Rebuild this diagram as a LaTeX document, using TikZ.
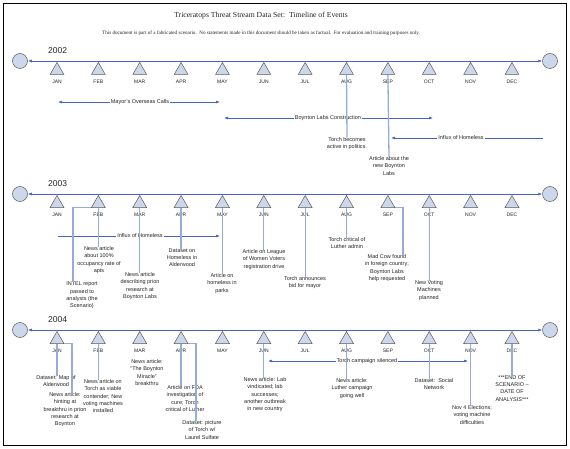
\documentclass[tikz,border=0pt]{standalone}
\usepackage{fontspec}
\setmainfont{Liberation Sans}
\newfontfamily\serifttl{Liberation Serif}
\usetikzlibrary{shapes.geometric,arrows.meta}
\definecolor{tlblue}{RGB}{70,100,200}
\definecolor{connc}{RGB}{150,172,214}
\definecolor{trifill}{RGB}{205,215,235}
\definecolor{trigray}{RGB}{90,90,90}
\definecolor{txt}{RGB}{35,35,35}
\tikzset{
  tri/.style={regular polygon, regular polygon sides=3, minimum size=16pt, inner sep=0pt, draw=trigray, fill=trifill, line width=0.5pt, anchor=north},
  endc/.style={circle, minimum size=15pt, inner sep=0pt, draw=trigray, fill=trifill, line width=0.5pt},
  tline/.style={draw=tlblue, line width=0.7pt, {Latex[length=4pt,width=3pt]}-{Latex[length=4pt,width=3pt]}},
  mlab/.style={font=\fontsize{5}{6}\selectfont, text=txt, inner sep=0pt},
  yearlab/.style={font=\fontsize{8.5}{10}\selectfont, text=txt, inner sep=0pt, anchor=base west},
  evt/.style={font=\fontsize{5.5}{7.2}\selectfont, align=center, inner sep=0pt, anchor=north, text=txt},
  conn/.style={draw=connc, line width=1.3pt},
  span/.style={draw=tlblue, line width=0.6pt},
  spanlab/.style={font=\fontsize{5.5}{7}\selectfont, text=txt, fill=white, inner sep=1pt},
  tip/.style={-{Latex[length=4pt,width=3pt]}}
}
\newcommand\yearline[2]{%
  \node[endc] (cl#1) at (20,#2) {};
  \node[endc] (cr#1) at (550,#2) {};
  \draw[tline] (cl#1) -- (cr#1);
  \node[yearlab] (y#1) at (48,#2-7.5) {#1};
  \foreach \m [count=\i] in {JAN,FEB,MAR,APR,MAY,JUN,JUL,AUG,SEP,OCT,NOV,DEC} {
    \node[tri] (m#1-\i) at ({57+41.36*(\i-1)},#2+1) {};
    \node[mlab] (ml#1-\i) at ({57+41.36*(\i-1)},#2+21) {\m};
  }%
}
\begin{document}
\begin{tikzpicture}[x=1pt,y=-1pt]
\useasboundingbox (0,0) rectangle (570,449);
\draw[line width=1pt] (3.5,3.5) rectangle (566.5,445.5);
\node[font=\serifttl\fontsize{7.7}{9}\selectfont, text=txt] (title) at (261,16) {Triceratops Threat Stream Data Set:\ \ Timeline of Events};
\node[font=\serifttl\fontsize{5.1}{6}\selectfont, text=txt] (subtitle) at (261,33) {This document is part of a fabricated scenario.\ \ No statements made in this document should be taken as factual.\ \ For evaluation and training purposes only.};

% ---------------- 2002 ----------------
\yearline{2002}{61}
\coordinate (a1) at (58,102); \coordinate (a2) at (220,102);
\draw[span,{Latex[length=4pt,width=3pt]}-{Latex[length=4pt,width=3pt]}] (a1) -- (a2);
\node[spanlab] (s1) at (140,102) {Mayor's Overseas Calls};
\coordinate (b1) at (224,118); \coordinate (b2) at (433,118);
\draw[span,{Latex[length=4pt,width=3pt]}-{Latex[length=4pt,width=3pt]}] (b1) -- (b2);
\node[spanlab] (s2) at (328,118) {Boynton Labs Construction};
\coordinate (c1) at (543,138); \coordinate (c2) at (391,138);
\draw[span,tip] (c1) -- (c2);
\node[spanlab] (s3) at (461,138) {Influx of Homeless};

\node[evt] (e02a) at (347,137.5) {Torch becomes\\active in politics.};
\node[evt] (e02b) at (389,156.5) {Article about the\\new Boynton\\Labs};
\draw[conn] (m2002-8.south) -- (e02a.north);
\draw[conn] (m2002-9.south) -- (e02b.north);

% ---------------- 2003 ----------------
\yearline{2003}{194}
\coordinate (d1) at (58,236); \coordinate (d2) at (220,236);
\draw[span,tip] (d1) -- (d2);
\node[spanlab] (s4) at (140,236) {Influx of Homeless};

\node[evt] (e03a) at (82,282) {INTEL report\\passed to\\analysts (the\\Scenario)};
\node[evt] (e03b) at (99,246.5) {News article\\about 100\%\\occupancy rate of\\apts};
\node[evt] (e03c) at (140,272.5) {News article\\describing prion\\research at\\Boynton Labs};
\node[evt] (e03d) at (182,248.5) {Dataset on\\Homeless in\\Alderwood};
\node[evt] (e03e) at (222,273.5) {Article on\\homeless in\\parks};
\node[evt] (e03f) at (264,249.5) {Article on League\\of Women Voters\\registration drive};
\node[evt] (e03g) at (305,276.5) {Torch announces\\bid for mayor};
\node[evt] (e03h) at (347,237.5) {Torch critical of\\Luther admin};
\node[evt] (e03i) at (387,254.5) {Mad Cow found\\in foreign country;\\Boynton Labs\\help requested};
\node[evt] (e03j) at (429,280.5) {New Voting\\Machines\\planned};
\draw[conn] (m2003-2.corner 2) -| ([xshift=-9pt]e03a.north);
\draw[conn] (m2003-2.south) -- (m2003-2.south |- e03b.north);
\draw[conn] (m2003-3.south) -- (m2003-3.south |- e03c.north);
\draw[conn] (m2003-4.south) -- (m2003-4.south |- e03d.north);
\draw[conn] (m2003-5.south) -- (m2003-5.south |- e03e.north);
\draw[conn] (m2003-6.south) -- (m2003-6.south |- e03f.north);
\draw[conn] (m2003-7.south) -- (m2003-7.south |- e03g.north);
\draw[conn] (m2003-8.south) -- (m2003-8.south |- e03h.north);
\draw[conn] (m2003-9.corner 3) -| ([xshift=16pt]e03i.north);
\draw[conn] (m2003-10.south) -- (m2003-10.south |- e03j.north);

% ---------------- 2004 ----------------
\yearline{2004}{330}
\coordinate (f1) at (268,361); \coordinate (f2) at (468,361);
\draw[span,{Latex[length=4pt,width=3pt]}-{Latex[length=4pt,width=3pt]}] (f1) -- (f2);
\node[spanlab] (s5) at (367,361) {Torch campaign silenced};

\node[evt] (e04a) at (56,375.5) {Dataset: Map of\\Alderwood};
\node[evt] (e04b) at (65,392.5) {News article:\\hinting at\\breakthru in prion\\research at\\Boynton};
\node[evt] (e04c) at (103,379.5) {News article on\\Torch as viable\\contender; New\\voting machines\\installed};
\node[evt] (e04d) at (147,359.5) {News article:\\``The Boynton\\Miracle''\\breakthru};
\node[evt] (e04e) at (185,385.5) {Article on FDA\\investigation of\\cure; Torch\\critical of Luther};
\node[evt] (e04f) at (202,420.5) {Dataset: picture\\of Torch w/\\Laurel Sulfate};
\node[evt] (e04g) at (265,377.5) {News article: Lab\\vindicated; lab\\successes;\\another outbreak\\in new country};
\node[evt] (e04h) at (352,378.5) {News article:\\Luther campaign\\going well};
\node[evt] (e04i) at (434,378.5) {Dataset:\ \ Social\\Network};
\node[evt] (e04j) at (472,405.5) {Nov 4 Elections;\\voting machine\\difficulties};
\node[evt] (e04k) at (512,375.5) {***END OF\\SCENARIO --\\DATE OF\\ANALYSIS***};
\draw[conn] (m2004-1.south) -- (m2004-1.south |- e04a.north);
\draw[conn] (m2004-1.corner 3) -| ([xshift=7pt]e04b.north);
\draw[conn] (m2004-2.south) -- (m2004-2.south |- e04c.north);
\draw[conn] (m2004-4.south) -- (m2004-4.south |- e04e.north);
\draw[conn] (m2004-4.corner 3) -| ([xshift=-6pt]e04f.north);
\draw[conn] (m2004-6.south) -- (m2004-6.south |- e04g.north);
\draw[conn] (m2004-8.south) -- (m2004-8.south |- e04h.north);
\draw[conn] (m2004-10.south) -- (m2004-10.south |- e04i.north);
\draw[conn] (m2004-11.south) -- (m2004-11.south |- e04j.north);
\draw[conn] (m2004-12.south) -- (m2004-12.south |- e04k.north);
\end{tikzpicture}
\end{document}
